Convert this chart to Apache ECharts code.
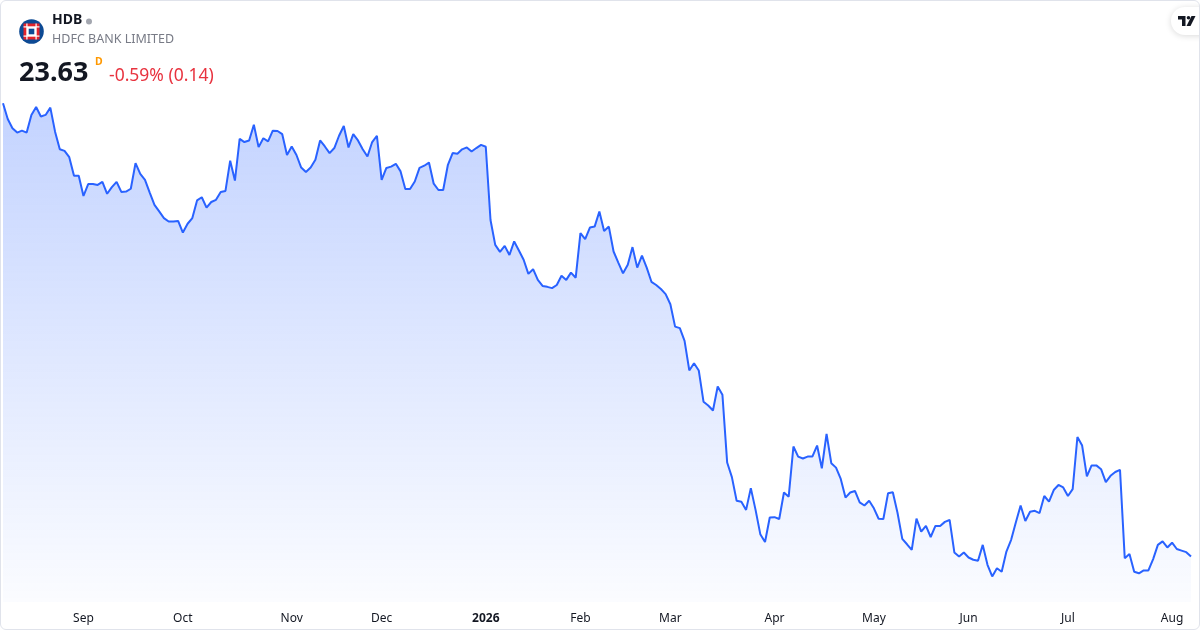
<!DOCTYPE html>
<html>
<head>
<meta charset="utf-8">
<script src="https://cdn.jsdelivr.net/npm/echarts@6/dist/echarts.min.js"></script>
<style>
  html, body { margin: 0; padding: 0; background: #fff; }
  #chart { width: 1200px; height: 630px; box-sizing: border-box; border: 1px solid #e0e3eb; border-radius: 6px; overflow: hidden; }
</style>
</head>
<body>
<div id="chart"></div>
<script>
// daily closes, first bar 2025-08-07
var prices = [
  38.00, 37.50, 37.21, 37.07, 37.13, 37.07, 37.63, 37.88, 37.58, 37.63,
  37.86, 37.10, 36.54, 36.49, 36.29, 35.70, 35.70, 35.06, 35.44, 35.44,
  35.41, 35.51, 35.13, 35.34, 35.51, 35.19, 35.20, 35.29, 36.10, 35.76,
  35.57, 35.17, 34.78, 34.57, 34.36, 34.25, 34.25, 34.27, 33.90, 34.18,
  34.36, 34.92, 35.02, 34.69, 34.87, 34.94, 35.19, 35.22, 36.18, 35.55,
  36.87, 36.77, 36.82, 37.32, 36.61, 36.89, 36.79, 37.13, 37.12, 37.02,
  36.36, 36.63, 36.36, 35.96, 35.82, 35.96, 36.21, 36.82, 36.63, 36.42,
  36.58, 36.97, 37.28, 36.60, 37.02, 36.82, 36.54, 36.31, 36.77, 36.97,
  35.57, 35.95, 35.99, 36.08, 35.84, 35.28, 35.28, 35.52, 35.95, 36.02,
  36.12, 35.45, 35.25, 35.25, 36.05, 36.42, 36.40, 36.54, 36.60, 36.47,
  36.58, 36.68, 36.62, 34.30, 33.51, 33.29, 33.48, 33.19, 33.62, 33.33,
  33.04, 32.59, 32.74, 32.40, 32.21, 32.18, 32.14, 32.24, 32.53, 32.40,
  32.63, 32.47, 33.88, 33.69, 34.06, 34.09, 34.57, 33.95, 34.09, 33.30,
  32.95, 32.61, 32.88, 33.44, 32.79, 33.17, 32.79, 32.34, 32.24, 32.11,
  31.95, 31.63, 30.92, 30.87, 30.47, 29.53, 29.76, 29.53, 28.54, 28.42,
  28.26, 29.02, 28.76, 26.61, 26.15, 25.40, 25.37, 25.11, 25.80, 25.11,
  24.34, 24.09, 24.87, 24.88, 24.82, 25.66, 25.53, 27.12, 26.80, 26.74,
  26.80, 26.80, 27.15, 26.43, 27.52, 26.59, 26.45, 26.09, 25.50, 25.66,
  25.71, 25.35, 25.25, 25.40, 25.16, 24.83, 24.82, 25.64, 25.67, 25.01,
  24.19, 24.02, 23.84, 24.83, 24.42, 24.60, 24.25, 24.60, 24.60, 24.73,
  24.79, 23.76, 23.63, 23.76, 23.60, 23.53, 23.50, 24.00, 23.37, 23.00,
  23.26, 23.15, 23.79, 24.16, 24.72, 25.25, 24.76, 25.05, 25.08, 25.01,
  25.55, 25.37, 25.74, 25.90, 25.82, 25.55, 25.77, 27.42, 27.15, 26.17,
  26.52, 26.52, 26.40, 25.99, 26.19, 26.31, 26.38, 23.58, 23.71, 23.15,
  23.10, 23.19, 23.19, 23.55, 24.00, 24.11, 23.92, 24.07, 23.87, 23.82,
  23.77, 23.63
];

var startDate = '2025-08-07';
var holidays = ['2025-09-01', '2025-11-27', '2025-12-25', '2026-01-01', '2026-01-19',
                '2026-02-16', '2026-04-03', '2026-05-25', '2026-06-19', '2026-07-03'];
var monthNames = ['Jan', 'Feb', 'Mar', 'Apr', 'May', 'Jun', 'Jul', 'Aug', 'Sep', 'Oct', 'Nov', 'Dec'];

// trading days (weekdays minus market holidays)
var dates = [];
var d = new Date(startDate + 'T00:00:00Z');
while (dates.length < prices.length) {
  var iso = d.toISOString().slice(0, 10);
  var wd = d.getUTCDay();
  if (wd !== 0 && wd !== 6 && holidays.indexOf(iso) < 0) dates.push(iso);
  d.setUTCDate(d.getUTCDate() + 1);
}

var blue = '#2962ff';
var navy = '#0d4a94';
var chart = echarts.init(document.getElementById('chart'), null, { renderer: 'canvas' });
var font = '"Noto Sans", "Open Sans", sans-serif';

chart.setOption({
  animation: false,
  grid: { left: 2, right: 8, top: 89, bottom: 27 },
  xAxis: {
    type: 'category',
    data: dates,
    boundaryGap: false,
    axisLine: { show: false },
    axisTick: { show: false },
    splitLine: { show: false },
    axisLabel: {
      margin: 11,
      color: '#131722',
      fontSize: 12,
      fontFamily: font,
      interval: function(i, v) {
        return i > 0 && v.slice(5, 7) !== dates[i - 1].slice(5, 7);
      },
      formatter: function(v) {
        var m = parseInt(v.slice(5, 7), 10) - 1;
        return m === 0 ? '{y|' + v.slice(0, 4) + '}' : monthNames[m];
      },
      rich: { y: { fontWeight: 'bold', fontSize: 12, color: '#131722', fontFamily: font } }
    }
  },
  yAxis: {
    type: 'value',
    min: 22.19,
    max: 38.42,
    show: false,
    splitLine: { show: false }
  },
  series: [{
    type: 'line',
    data: prices,
    symbol: 'none',
    lineStyle: { color: blue, width: 2 },
    areaStyle: {
      opacity: 1,
      color: new echarts.graphic.LinearGradient(0, 0, 0, 1, [
        { offset: 0, color: 'rgba(41,98,255,0.28)' },
        { offset: 1, color: 'rgba(41,98,255,0.02)' }
      ])
    }
  }],
  graphic: [
    // bank logo
    { type: 'circle', shape: { cx: 30.5, cy: 30.5, r: 12.3 }, style: { fill: navy } },
    { type: 'rect', shape: { x: 22.5, y: 22.5, width: 16, height: 16 }, style: { fill: '#e3242b' } },
    { type: 'rect', shape: { x: 22.5, y: 25.3, width: 16, height: 1.2 }, style: { fill: '#ffffff' } },
    { type: 'rect', shape: { x: 22.5, y: 34.5, width: 16, height: 1.2 }, style: { fill: '#ffffff' } },
    { type: 'rect', shape: { x: 25.3, y: 22.5, width: 1.2, height: 16 }, style: { fill: '#ffffff' } },
    { type: 'rect', shape: { x: 34.5, y: 22.5, width: 1.2, height: 16 }, style: { fill: '#ffffff' } },
    { type: 'rect', shape: { x: 26, y: 26, width: 9, height: 9 }, style: { fill: '#ffffff' } },
    { type: 'rect', shape: { x: 27.7, y: 27.7, width: 5.6, height: 5.6 }, style: { fill: navy } },
    // header texts
    { type: 'text', left: 51, top: 12, style: { text: 'HDB', fontSize: 14, fontWeight: 'bold', fill: '#131722', fontFamily: font } },
    { type: 'circle', shape: { cx: 88, cy: 20.5, r: 3 }, style: { fill: '#a3a6af' } },
    { type: 'text', left: 51, top: 32, style: { text: 'HDFC BANK LIMITED', fontSize: 12.5, fill: '#787b86', fontFamily: font } },
    { type: 'text', left: 18, top: 59, style: { text: '23.63', fontSize: 27, fontWeight: 'bold', fill: '#131722', fontFamily: font } },
    { type: 'text', left: 94, top: 56, style: { text: 'D', fontSize: 10.5, fontWeight: 'bold', fill: '#ff9800', fontFamily: font } },
    { type: 'text', left: 108, top: 66, style: { text: '-0.59% (0.14)', fontSize: 17.5, fill: '#e8333f', fontFamily: font } },
    // TradingView badge
    { type: 'rect', shape: { x: 1170, y: 6, width: 44, height: 28, r: 14 },
      style: { fill: '#ffffff', shadowBlur: 6, shadowColor: 'rgba(0,0,0,0.15)', shadowOffsetY: 1 } },
    { type: 'polygon', shape: { points: [[1177, 15], [1184.5, 15], [1184.5, 25], [1181, 25], [1181, 18.5], [1177, 18.5]] }, style: { fill: '#131722' } },
    { type: 'circle', shape: { cx: 1187.5, cy: 16.8, r: 1.8 }, style: { fill: '#131722' } },
    { type: 'polygon', shape: { points: [[1190.5, 15], [1194.5, 15], [1189.5, 25], [1185.5, 25]] }, style: { fill: '#131722' } }
  ]
});

window.addEventListener('resize', function() { chart.resize(); });
</script>
</body>
</html>
